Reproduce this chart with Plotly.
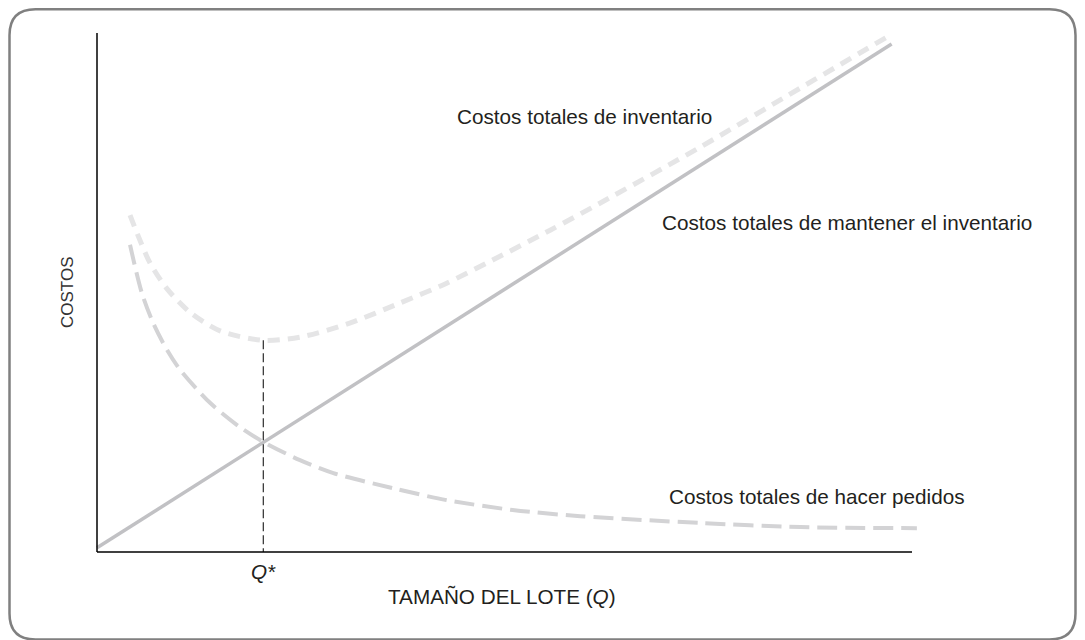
import plotly.graph_objects as go

# ---------------- data (arbitrary units: lot size Q, cost) ----------------
q_holding = [0.0, 97.5]
c_holding = [0.8, 97.9]

q_order = [4.05, 5.5, 6.9, 8.6, 10.2, 13.9, 17.5, 20.4, 24.9, 29.0, 36.3, 42.9, 51.0, 59.3, 74.0, 86.3, 100.6]
c_order = [59.2, 49.9, 44.1, 38.9, 35.1, 28.7, 24.1, 21.2, 17.7, 15.2, 12.3, 10.0, 8.1, 6.9, 5.6, 4.8, 4.6]

q_total = [4.05, 5.0, 6.5, 8.6, 11.4, 15.1, 20.4, 24.9, 31.0, 37.2, 42.9, 48.6, 55.6, 61.7, 74.0, 86.3, 96.9]
c_total = [64.9, 61.1, 55.7, 50.7, 46.2, 42.6, 40.8, 41.4, 44.1, 48.0, 51.8, 56.3, 62.0, 67.2, 78.0, 89.4, 99.2]

q_star = 20.4
c_star = 40.8
axis_max = 100.0

label_total = "Costos totales de inventario"
label_holding = "Costos totales de mantener el inventario"
label_order = "Costos totales de hacer pedidos"
label_x = "TAMAÑO DEL LOTE (<i>Q</i>)"
label_y = "COSTOS"
label_qstar = "<i>Q*</i>"

# ---------------- layout geometry ----------------
OFF = 8                            # page body margin in the browser
W, H = 1085 - OFF, 640 - OFF
ML, MR, MT, MB = 82, 85, 12, 80
PW, PH = W - ML - MR, H - MT - MB
ORIG_X, ORIG_Y = 97 - OFF, 552 - OFF   # pixel position of data origin
SX, SY = 8.15, 5.19                    # pixels per data unit

x_range = [(ML - ORIG_X) / SX, (W - MR - ORIG_X) / SX]
y_range = [(ORIG_Y - (H - MB)) / SY, (ORIG_Y - MT) / SY]


def px(x):
    """window pixel x -> paper coordinate"""
    return (x - OFF - ML) / PW


def py(y):
    """window pixel y -> paper coordinate"""
    return (H - MB - (y - OFF)) / PH


TEXT = "#231f20"
FONT = "Liberation Sans, Arial, sans-serif"

fig = go.Figure()

fig.add_trace(go.Scatter(
    x=q_holding, y=c_holding, mode="lines",
    line=dict(color="#c1c1c4", width=3.5),
    hoverinfo="skip", showlegend=False))

fig.add_trace(go.Scatter(
    x=q_order, y=c_order, mode="lines",
    line=dict(color="#d3d3d5", width=4, dash="20px,8px", shape="spline", smoothing=0.8),
    hoverinfo="skip", showlegend=False))

fig.add_trace(go.Scatter(
    x=q_total, y=c_total, mode="lines",
    line=dict(color="#e5e5e6", width=5, dash="12px,8px", shape="spline", smoothing=0.8),
    hoverinfo="skip", showlegend=False))

# Q* vertical reference
fig.add_trace(go.Scatter(
    x=[q_star, q_star], y=[c_star, 0], mode="lines",
    line=dict(color="#000000", width=1, dash="9px,4px"),
    hoverinfo="skip", showlegend=False))

shapes = []
# axis lines
shapes.append(dict(type="line", xref="x", yref="y", x0=0, y0=0, x1=0, y1=axis_max,
                   line=dict(color="#000000", width=1.5)))
shapes.append(dict(type="line", xref="x", yref="y", x0=0, y0=0, x1=axis_max, y1=0,
                   line=dict(color="#000000", width=1.5)))

# rounded border (window pixel coordinates)
bx0, bx1, by0, by1, r = 9.5, 1075.5, 9.3, 639.5, 26
X0, X1 = px(bx0), px(bx1)
Y0, Y1 = py(by0), py(by1)
rx, ry = r / PW, r / PH
path = (f"M {X0+rx},{Y0} L {X1-rx},{Y0} Q {X1},{Y0} {X1},{Y0-ry} "
        f"L {X1},{Y1+ry} Q {X1},{Y1} {X1-rx},{Y1} "
        f"L {X0+rx},{Y1} Q {X0},{Y1} {X0},{Y1+ry} "
        f"L {X0},{Y0-ry} Q {X0},{Y0} {X0+rx},{Y0} Z")
shapes.append(dict(type="path", xref="paper", yref="paper", path=path,
                   line=dict(color="#808080", width=2.5)))

FS = 20.7
annotations = [
    dict(text=label_total, x=px(455), y=py(116), xanchor="left", yanchor="middle",
         font=dict(size=FS, color=TEXT, family=FONT)),
    dict(text=label_holding, x=px(660), y=py(223), xanchor="left", yanchor="middle",
         font=dict(size=FS, color=TEXT, family=FONT)),
    dict(text=label_order, x=px(667), y=py(496), xanchor="left", yanchor="middle",
         font=dict(size=FS, color=TEXT, family=FONT)),
    dict(text=label_x, x=px(502), y=py(596), xanchor="center", yanchor="middle",
         font=dict(size=FS, color=TEXT, family=FONT)),
    dict(text=label_qstar, x=px(263), y=py(571), xanchor="center", yanchor="middle",
         font=dict(size=FS, color=TEXT, family=FONT)),
    dict(text=label_y, x=px(67), y=py(293), xanchor="center", yanchor="middle",
         textangle=-90, font=dict(size=17, color="#333333", family="Arial, Liberation Sans, sans-serif")),
]
for a in annotations:
    a.update(xref="paper", yref="paper", showarrow=False)

fig.update_layout(
    width=W, height=H,
    margin=dict(l=ML, r=MR, t=MT, b=MB, pad=0),
    paper_bgcolor="white", plot_bgcolor="white",
    xaxis=dict(range=x_range, visible=False, fixedrange=True),
    yaxis=dict(range=y_range, visible=False, fixedrange=True),
    shapes=shapes, annotations=annotations,
    showlegend=False,
)

fig.write_html("out.html")
